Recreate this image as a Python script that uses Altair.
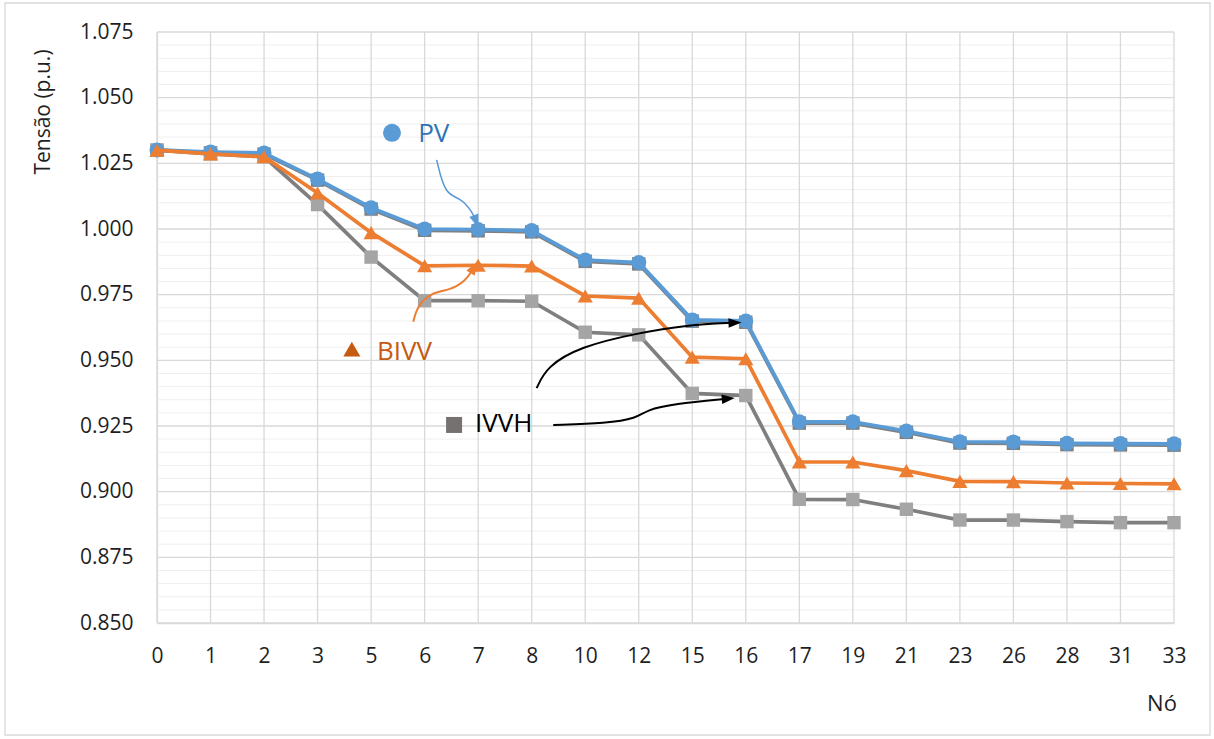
import altair as alt
import pandas as pd

# Nodes along the feeder (categorical axis)
nodes = ["0", "1", "2", "3", "5", "6", "7", "8", "10", "12",
         "15", "16", "17", "19", "21", "23", "26", "28", "31", "33"]

# Voltage profiles (p.u.)
base_case = [1.0300, 1.0290, 1.0285, 1.0186, 1.0076, 0.9995, 0.9993, 0.9989, 0.9877, 0.9867,
             0.9649, 0.9645, 0.9261, 0.9261, 0.9226, 0.9185, 0.9184, 0.9179, 0.9178, 0.9177]
pv = [1.0301, 1.0293, 1.0289, 1.0190, 1.0081, 1.0000, 0.9998, 0.9994, 0.9882, 0.9872,
      0.9654, 0.9650, 0.9266, 0.9266, 0.9231, 0.9190, 0.9189, 0.9184, 0.9183, 0.9182]
bivv = [1.0300, 1.0286, 1.0275, 1.0137, 0.9986, 0.9860, 0.9862, 0.9859, 0.9745, 0.9737,
        0.9512, 0.9506, 0.9113, 0.9113, 0.9080, 0.9039, 0.9038, 0.9033, 0.9031, 0.9030]
ivvh = [1.0300, 1.0286, 1.0275, 1.0093, 0.9893, 0.9727, 0.9727, 0.9725, 0.9607, 0.9597,
        0.9374, 0.9366, 0.8971, 0.8970, 0.8933, 0.8892, 0.8892, 0.8886, 0.8882, 0.8882]

y_major = [0.850, 0.875, 0.900, 0.925, 0.950, 0.975, 1.000, 1.025, 1.050, 1.075]
y_minor = [round(0.850 + 0.005 * k, 3) for k in range(46) if k % 5 != 0]

# Callout labels (position in node-index / p.u. units)
callout_names = ["PV", "BIVV", "IVVH"]
callout_mark_x = [4.39, 3.64, 5.55]
callout_mark_y = [1.0366, 0.9543, 0.9254]
callout_text_x = [4.88, 4.11, 5.94]
callout_text_y = [1.0362, 0.9532, 0.9258]

# Curved callout arrows: path points (node-index, p.u.)
arrow_pv_x = [5.225, 5.38, 5.69, 5.90, 5.963]
arrow_pv_y = [1.0263, 1.0129, 1.0118, 1.0061, 1.0029]
arrow_bivv_x = [4.788, 4.857, 5.100, 5.474, 5.754, 5.922]
arrow_bivv_y = [0.9647, 0.9704, 0.9756, 0.9768, 0.9799, 0.9853]
arrow_a_x = [7.093, 7.280, 7.902, 8.961, 9.895, 10.799]
arrow_a_y = [0.9394, 0.9476, 0.9552, 0.9603, 0.9635, 0.9643]
arrow_b_x = [7.403, 8.401, 8.961, 9.148, 9.645, 10.673]
arrow_b_y = [0.9254, 0.9260, 0.9279, 0.9311, 0.9334, 0.9354]
head_angles = [159, 32, 88, 85]

FONT = "Open Sans"
TXT = "#1f1f1f"
GRID = "#d9d9d9"

W, H = 1017, 591
xs = alt.Scale(domain=[0, 19], nice=False, zero=False)
ys = alt.Scale(domain=[0.85, 1.075], nice=False, zero=False)

label_expr = "[" + ",".join("'%s'" % n for n in nodes) + "][datum.value]"

# Gridlines
minor = alt.Chart(pd.DataFrame({"v": y_minor})).mark_rule(color="#efefef", strokeWidth=1).encode(
    y=alt.Y("v:Q", scale=ys))
vert = alt.Chart(pd.DataFrame({"i": list(range(20))})).mark_rule(color=GRID, strokeWidth=1.3).encode(
    x=alt.X("i:Q", scale=xs))
major = alt.Chart(pd.DataFrame({"v": y_major})).mark_rule(color=GRID, strokeWidth=1.3).encode(
    y=alt.Y("v:Q", scale=ys))

# Axes carried by an invisible layer
axes = alt.Chart(pd.DataFrame({"i": [0], "v": [0.85]})).mark_point(opacity=0).encode(
    x=alt.X("i:Q", scale=xs, title=None,
            axis=alt.Axis(values=list(range(20)), labelExpr=label_expr, grid=False, ticks=False,
                          domainColor=GRID, domainWidth=1.3, labelFont=FONT, labelFontSize=21,
                          labelColor=TXT, labelPadding=22, labelFlush=False, labelOverlap=False)),
    y=alt.Y("v:Q", scale=ys, title=None,
            axis=alt.Axis(values=y_major, format=".3f", grid=False, ticks=False,
                          domainColor=GRID, domainWidth=1.3, labelFont=FONT, labelFontSize=21,
                          labelColor=TXT, labelPadding=24, labelFlush=False, labelOverlap=False)),
)


def series(values, line_color, marker_color, shape, size):
    df = pd.DataFrame({"i": list(range(20)), "v": values})
    base = alt.Chart(df).encode(x=alt.X("i:Q", scale=xs), y=alt.Y("v:Q", scale=ys))
    line = base.mark_line(color=line_color, strokeWidth=3.7)
    pts = base.mark_point(filled=True, shape=shape, size=size, color=marker_color, opacity=1)
    return line + pts


s_base = series(base_case, "#7f7f7f", "#7f7f7f", "square", 180)
s_ivvh = series(ivvh, "#7f7f7f", "#a5a5a5", "square", 180)
s_pv = series(pv, "#5b9bd5", "#5b9bd5", "circle", 225)
s_bivv = series(bivv, "#ed7d31", "#ed7d31", "triangle-up", 230)


def arrow(px, py, angle, color, width):
    df = pd.DataFrame({"x": px, "y": py, "o": list(range(len(px)))})
    ln = alt.Chart(df).mark_line(color=color, strokeWidth=width, interpolate="basis").encode(
        x=alt.X("x:Q", scale=xs), y=alt.Y("y:Q", scale=ys), order="o:Q")
    head = alt.Chart(df.tail(1)).mark_point(
        shape="M0,-1L0.75,1L-0.75,1Z", filled=True, size=169, color=color, opacity=1,
        angle=angle).encode(x=alt.X("x:Q", scale=xs), y=alt.Y("y:Q", scale=ys))
    return ln + head


arrows = (arrow(arrow_pv_x, arrow_pv_y, head_angles[0], "#5b9bd5", 1.5)
          + arrow(arrow_bivv_x, arrow_bivv_y, head_angles[1], "#ed7d31", 2)
          + arrow(arrow_a_x, arrow_a_y, head_angles[2], "#000000", 2)
          + arrow(arrow_b_x, arrow_b_y, head_angles[3], "#000000", 2))

# Callout markers and texts
def callout(k, shape, size, mcolor, tcolor):
    dm = pd.DataFrame({"x": [callout_mark_x[k]], "y": [callout_mark_y[k]]})
    dt = pd.DataFrame({"x": [callout_text_x[k]], "y": [callout_text_y[k]], "t": [callout_names[k]]})
    m = alt.Chart(dm).mark_point(shape=shape, size=size, filled=True, color=mcolor, opacity=1).encode(
        x=alt.X("x:Q", scale=xs), y=alt.Y("y:Q", scale=ys))
    t = alt.Chart(dt).mark_text(align="left", baseline="middle", font=FONT, fontSize=26,
                                color=tcolor).encode(
        x=alt.X("x:Q", scale=xs), y=alt.Y("y:Q", scale=ys), text="t:N")
    return m + t


callouts = (callout(0, "circle", 324, "#5b9bd5", "#2e75b6")
            + callout(1, "triangle-up", 290, "#c55a11", "#c55a11")
            + callout(2, "square", 256, "#767171", "#000000"))

# Axis titles
y_title = alt.Chart(pd.DataFrame({"t": ["Tensão (p.u.)"]})).mark_text(
    angle=270, align="center", baseline="middle", font=FONT, fontSize=21, color=TXT).encode(
    x=alt.value(-113), y=alt.value(80), text="t:N")
x_title = alt.Chart(pd.DataFrame({"t": ["Nó"]})).mark_text(
    align="center", baseline="middle", font=FONT, fontSize=22, color=TXT).encode(
    x=alt.value(1005), y=alt.value(672), text="t:N")

# Chart-area border
frame = alt.Chart(pd.DataFrame({"a": [0]})).mark_rect(fill=None, stroke=GRID, strokeWidth=1.3).encode(
    x=alt.value(-152), x2=alt.value(1053), y=alt.value(-29), y2=alt.value(703))

chart = alt.layer(
    frame, minor, vert, major, axes,
    s_base, s_ivvh, s_pv, s_bivv,
    arrows, callouts, y_title, x_title,
).properties(
    width=W, height=H,
    autosize=alt.AutoSizeParams(type="none"),
    padding={"left": 157, "top": 32, "right": 40, "bottom": 116},
    background="white",
).configure_view(stroke=None)

chart.save("out.html", embed_options={"renderer": "svg", "actions": False})
